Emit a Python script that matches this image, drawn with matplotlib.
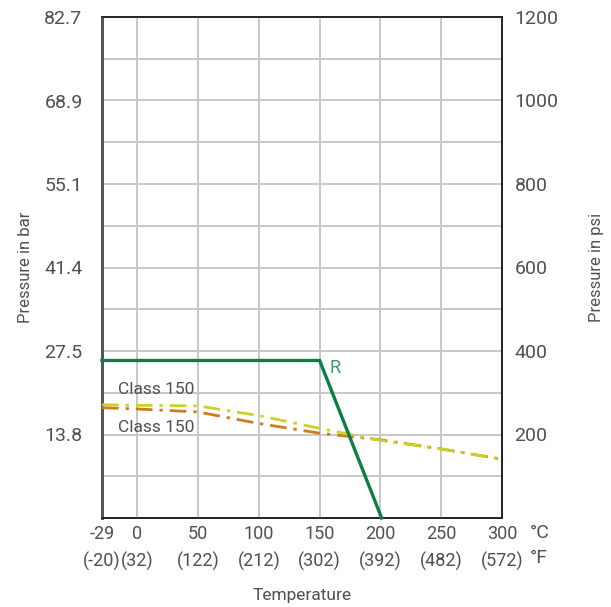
import matplotlib
matplotlib.use("Agg")
import matplotlib.pyplot as plt
from matplotlib.transforms import blended_transform_factory

plt.rcParams['font.family'] = ['Roboto', 'DejaVu Sans']

# temperature axis
temp_c = [-29, 0, 50, 100, 150, 200, 250, 300]
temp_f = [-20, 32, 122, 212, 302, 392, 482, 572]

# pressure axis ticks
bar_ticks = [13.8, 27.5, 41.4, 55.1, 68.9, 82.7]
psi_ticks = [200, 400, 600, 800, 1000, 1200]
psi_grid = [100, 200, 300, 400, 500, 600, 700, 800, 900, 1000, 1100]

# curves (bar)
r_temp = [-29, 150, 201]
r_bar = [26.0, 26.0, 0.0]
class_a_temp = [-29, 0, 50, 100, 150, 200, 250, 300]
class_a_bar = [18.7, 18.6, 18.5, 16.9, 14.8, 12.8, 11.4, 9.7]
class_b_temp = [-29, 0, 50, 100, 150, 200, 250, 300]
class_b_bar = [18.2, 18.0, 17.5, 15.6, 14.0, 12.9, 11.4, 9.7]

text_col = '#505050'
grid_col = '#c8c8c8'

fig = plt.figure(figsize=(6.11, 6.07), dpi=100)
ax = fig.add_axes([102 / 611, 1 - 518 / 607, 400 / 611, 501 / 607])
ax2 = ax.twinx()

ax.set_xlim(-29, 300)
ax.set_ylim(0, 82.7)
ax2.set_ylim(0, 1200)

# grid
for t in temp_c[1:-1]:
    ax.axvline(t, color=grid_col, lw=1.4, zorder=0)
for p in psi_grid:
    ax2.axhline(p, color=grid_col, lw=1.4, zorder=0)

ax.set_zorder(ax2.get_zorder() + 1)
ax.patch.set_visible(False)

dash = (0, (6, 2.5, 1.2, 2.5))
ax.plot(class_b_temp, class_b_bar, color='#d27a1c', lw=2, linestyle=dash, zorder=3)
ax.plot(class_a_temp, class_a_bar, color='#c9d326', lw=2, linestyle=dash, zorder=4)
ax.plot(r_temp, r_bar, color='#0b7f45', lw=2.4, zorder=5, solid_joinstyle='miter',
        clip_on=False)

ax.text(-16, 21.2, 'Class 150', fontsize=12.5, color=text_col, va='center')
ax.text(-16, 15.0, 'Class 150', fontsize=12.5, color=text_col, va='center')
ax.text(158, 24.8, 'R', fontsize=13, color='#3d9a66', va='center')

ax.set_yticks(bar_ticks)
ax.set_yticklabels([f'{b:.1f}' for b in bar_ticks])
ax2.set_yticks(psi_ticks)
ax2.set_yticklabels([str(p) for p in psi_ticks])
ax.set_xticks(temp_c)
ax.set_xticklabels([f'{c}\n({f})' for c, f in zip(temp_c, temp_f)], linespacing=1.6)

ax.tick_params(axis='y', length=0, pad=14, labelsize=14, labelcolor=text_col)
ax2.tick_params(axis='y', length=0, pad=9, labelsize=14, labelcolor=text_col)
ax.tick_params(axis='x', length=0, pad=5, labelsize=13, labelcolor=text_col)

trans = blended_transform_factory(ax.transAxes, ax.transAxes)
ax.text(1.07, -0.012, '°C\n°F', transform=trans, fontsize=14, color=text_col,
        va='top', ha='left', linespacing=1.5)

ax.set_ylabel('Pressure in bar', fontsize=12, color=text_col, labelpad=8)
ax2.set_ylabel('Pressure in psi', fontsize=12, color=text_col, labelpad=22)
ax.set_xlabel('Temperature', fontsize=12.5, color=text_col, labelpad=12)

for a in (ax, ax2):
    for s in a.spines.values():
        s.set_color('#222222')
        s.set_linewidth(1.2)
    a.spines['left'].set_color('#555555')
    a.spines['left'].set_linewidth(2)

fig.savefig('out.png', dpi=100, facecolor='white')
